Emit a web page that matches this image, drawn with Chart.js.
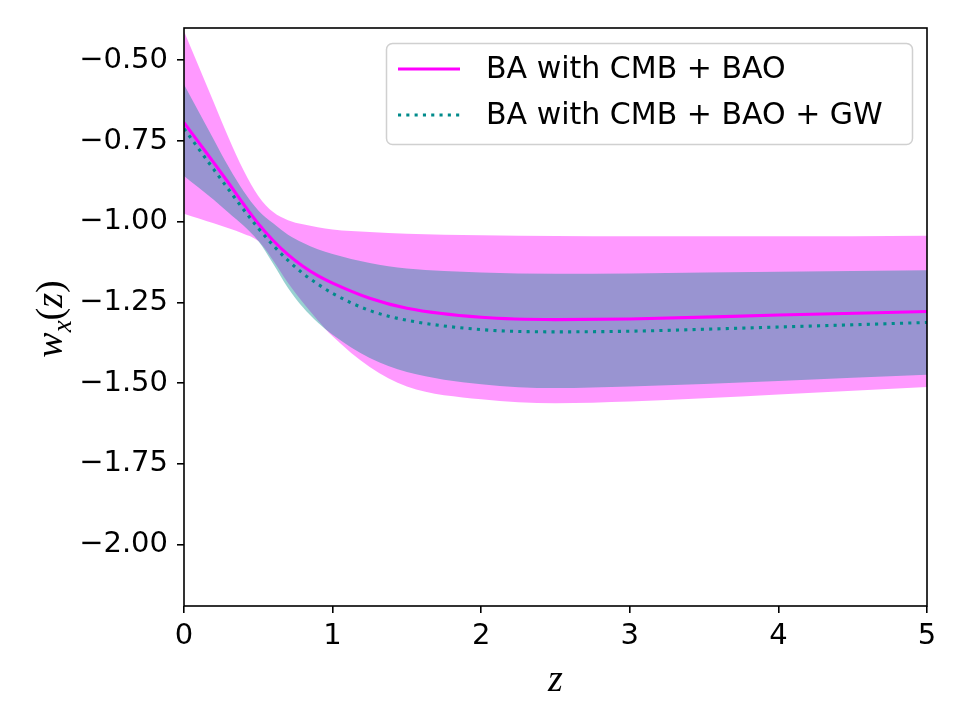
<!DOCTYPE html>
<html lang="en">
<head>
<meta charset="UTF-8">
<title>w_x(z) - BA reconstruction</title>
<script src="https://cdn.jsdelivr.net/npm/chart.js"></script>
<style>
  html, body { margin: 0; padding: 0; background: #fff; }
  #wrap { width: 960px; height: 720px; }
</style>
</head>
<body>
<div id="wrap"><canvas id="wxChart"></canvas></div>
<script>
const zVals = [0, 0.1, 0.2, 0.3, 0.4, 0.5, 0.6, 0.7, 0.8, 0.9, 1.0, 1.25, 1.5, 2, 2.5, 3, 4, 5];

// BA with CMB + BAO: mean and 1-sigma band
const cmbBaoMean = [-0.693, -0.755, -0.817, -0.880, -0.945, -1.006, -1.058, -1.102, -1.138, -1.167, -1.190, -1.237, -1.268, -1.296, -1.303, -1.301, -1.289, -1.278];
const cmbBaoHi   = [-0.410, -0.520, -0.630, -0.740, -0.840, -0.920, -0.970, -0.995, -1.008, -1.017, -1.024, -1.032, -1.037, -1.042, -1.044, -1.045, -1.045, -1.043];
const cmbBaoLo   = [-0.975, -0.990, -1.005, -1.020, -1.037, -1.060, -1.120, -1.190, -1.250, -1.305, -1.355, -1.450, -1.510, -1.550, -1.562, -1.557, -1.535, -1.512];

// BA with CMB + BAO + GW: mean and 1-sigma band
const gwMean = [-0.712, -0.775, -0.838, -0.900, -0.962, -1.020, -1.073, -1.120, -1.160, -1.193, -1.222, -1.275, -1.305, -1.334, -1.341, -1.339, -1.326, -1.312];
const gwHi   = [-0.575, -0.660, -0.745, -0.830, -0.905, -0.965, -1.005, -1.040, -1.065, -1.085, -1.100, -1.128, -1.145, -1.157, -1.161, -1.160, -1.155, -1.150];
const gwLo   = [-0.858, -0.895, -0.932, -0.972, -1.012, -1.060, -1.130, -1.205, -1.265, -1.312, -1.350, -1.422, -1.465, -1.503, -1.515, -1.510, -1.493, -1.474];

const yTicks = [-2.00, -1.75, -1.50, -1.25, -1.00, -0.75, -0.50];
const xTicks = [0, 1, 2, 3, 4, 5];
const legendLabels = ['BA with CMB + BAO', 'BA with CMB + BAO + GW'];

const MAGENTA = '#ff00ff';
const TEAL = '#008b8b';
const TICK_FONT = '"DejaVu Sans", sans-serif';
const MATH_FONT = '"Liberation Serif", "DejaVu Serif", serif';

function pts(ys) {
    return zVals.map((z, i) => ({ x: z, y: ys[i] }));
}

function minusFmt(v) {
    return (v < 0 ? '\u2212' : '') + Math.abs(v).toFixed(2);
}

const base = { pointRadius: 0, borderWidth: 0, cubicInterpolationMode: 'monotone' };

// box around the plot, axis titles and the legend
const decorations = {
    id: 'decorations',
    afterDraw(chart) {
        const ctx = chart.ctx;
        const a = chart.chartArea;
        ctx.save();

        // frame
        ctx.strokeStyle = '#000';
        ctx.lineWidth = 1.6;
        ctx.strokeRect(a.left, a.top, a.right - a.left, a.bottom - a.top);

        // x title
        ctx.fillStyle = '#000';
        ctx.font = 'italic 38px ' + MATH_FONT;
        ctx.textAlign = 'center';
        ctx.textBaseline = 'alphabetic';
        ctx.fillText('z', (a.left + a.right) / 2, 691);

        // y title: w_x(z), rotated
        ctx.save();
        ctx.translate(62, (a.top + a.bottom) / 2 + 2);
        ctx.rotate(-Math.PI / 2);
        ctx.textAlign = 'left';
        const parts = [
            { t: 'w', f: 'italic 38px ' + MATH_FONT, dy: 0 },
            { t: 'x', f: 'italic 27px ' + MATH_FONT, dy: 9 },
            { t: '(', f: '38px ' + MATH_FONT, dy: 0 },
            { t: 'z', f: 'italic 38px ' + MATH_FONT, dy: 0 },
            { t: ')', f: '38px ' + MATH_FONT, dy: 0 }
        ];
        let total = 0;
        parts.forEach(p => { ctx.font = p.f; p.w = ctx.measureText(p.t).width; total += p.w; });
        let cx = -total / 2;
        parts.forEach(p => { ctx.font = p.f; ctx.fillText(p.t, cx, p.dy); cx += p.w; });
        ctx.restore();

        // legend
        const bx = a.right - 541, by = a.top + 15, bw = 526, bh = 101;
        ctx.beginPath();
        ctx.roundRect(bx + 0.5, by + 0.5, bw, bh, 6);
        ctx.fillStyle = 'rgba(255,255,255,0.8)';
        ctx.fill();
        ctx.strokeStyle = '#d0d0d0';
        ctx.lineWidth = 1.5;
        ctx.stroke();

        const rows = [
            { label: legendLabels[0], color: MAGENTA, dash: [], y: by + 26 },
            { label: legendLabels[1], color: TEAL, dash: [3.1, 5.2], y: by + 72 }
        ];
        rows.forEach(r => {
            ctx.beginPath();
            ctx.setLineDash(r.dash);
            ctx.lineCap = 'butt';
            ctx.strokeStyle = r.color;
            ctx.lineWidth = 3.1;
            ctx.moveTo(bx + 12, r.y);
            ctx.lineTo(bx + 74, r.y);
            ctx.stroke();
            ctx.setLineDash([]);
            ctx.fillStyle = '#000';
            ctx.font = '30px ' + TICK_FONT;
            ctx.textAlign = 'left';
            ctx.textBaseline = 'middle';
            ctx.fillText(r.label, bx + 100, r.y + 1);
        });

        ctx.restore();
    }
};

const ctx = document.getElementById('wxChart').getContext('2d');
new Chart(ctx, {
    type: 'line',
    data: {
        datasets: [
            // index 0: CMB+BAO band lower edge
            { ...base, data: pts(cmbBaoLo), borderColor: 'transparent', fill: false, order: 6 },
            // index 1: CMB+BAO band upper edge, filled down to index 0
            { ...base, data: pts(cmbBaoHi), borderColor: 'transparent',
              fill: { target: 0 }, backgroundColor: 'rgba(255,0,255,0.4)', order: 5 },
            // index 2: GW band lower edge
            { ...base, data: pts(gwLo), borderColor: 'transparent', fill: false, order: 4 },
            // index 3: GW band upper edge, filled down to index 2
            { ...base, data: pts(gwHi), borderColor: 'transparent',
              fill: { target: 2 }, backgroundColor: 'rgba(0,139,139,0.4)', order: 3 },
            // mean curves
            { ...base, label: legendLabels[0], data: pts(cmbBaoMean), borderColor: MAGENTA,
              borderWidth: 3.1, fill: false, order: 2 },
            { ...base, label: legendLabels[1], data: pts(gwMean), borderColor: TEAL,
              borderWidth: 3.1, borderDash: [3.1, 5.2], borderCapStyle: 'butt', fill: false, order: 1 }
        ]
    },
    options: {
        responsive: true,
        maintainAspectRatio: false,
        animation: false,
        layout: { padding: { left: 0, top: 28, right: 33, bottom: 0 } },
        plugins: {
            legend: { display: false },
            tooltip: { enabled: false }
        },
        scales: {
            x: {
                type: 'linear',
                min: 0,
                max: 5,
                afterBuildTicks: (s) => { s.ticks = xTicks.map(v => ({ value: v })); },
                afterFit: (s) => { s.height = 114; },
                border: { display: false },
                grid: { drawOnChartArea: false, drawTicks: true, tickLength: 7, color: '#000', lineWidth: 1.6 },
                ticks: {
                    color: '#000',
                    font: { family: TICK_FONT, size: 29 },
                    padding: 6,
                    maxRotation: 0,
                    callback: (v) => String(v)
                }
            },
            y: {
                type: 'linear',
                min: -2.19,
                max: -0.40,
                afterBuildTicks: (s) => { s.ticks = yTicks.map(v => ({ value: v })); },
                afterFit: (s) => { s.width = 184; },
                border: { display: false },
                grid: { drawOnChartArea: false, drawTicks: true, tickLength: 7, color: '#000', lineWidth: 1.6 },
                ticks: {
                    color: '#000',
                    font: { family: TICK_FONT, size: 29 },
                    padding: 9,
                    callback: (v) => minusFmt(v)
                }
            }
        }
    },
    plugins: [decorations]
});
</script>
</body>
</html>
